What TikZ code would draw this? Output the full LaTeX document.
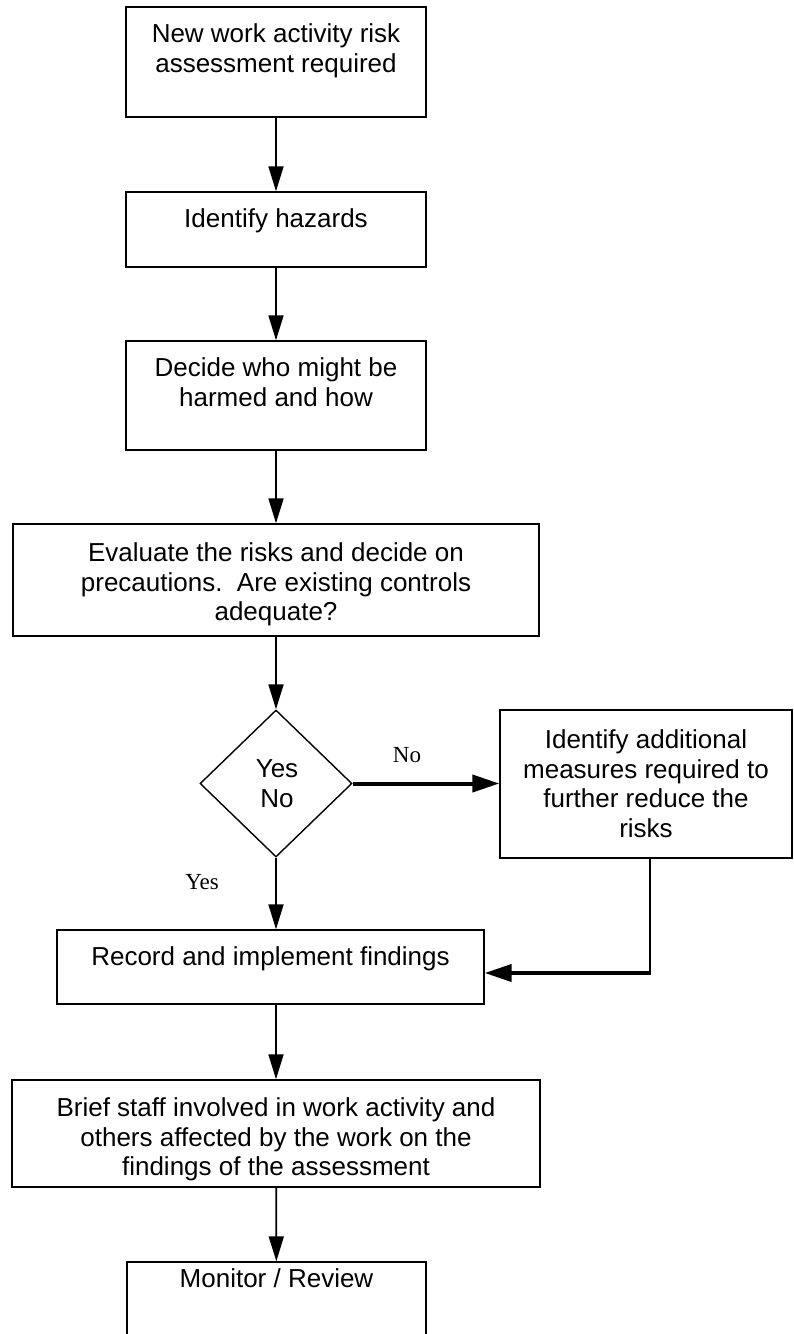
\documentclass[tikz,border=0pt]{standalone}
\usepackage{fontspec}
\setmainfont{Liberation Sans}
\newfontfamily\lblfont{Liberation Serif}
\usetikzlibrary{arrows.meta,shapes.geometric}
\begin{document}
\begin{tikzpicture}[x=1pt,y=-1pt,
  box/.style={draw, line width=1.4pt, rectangle, inner sep=0pt},
  dia/.style={draw, line width=1.4pt, diamond, inner sep=0pt},
  txt/.style={anchor=north, align=center, inner sep=0pt, font=\fontsize{26}{29.5}\selectfont},
  flow/.style={line width=1.8pt, -{Triangle[length=25pt,width=15pt]}},
  heavy/.style={line width=4pt, -{Triangle[length=27pt,width=17pt]}},
  lbl/.style={font=\lblfont\fontsize{23}{26}\selectfont, inner sep=0pt},
]
\clip (0,0) rectangle (794,1334);
\fill[white] (0,0) rectangle (794,1334);

% boxes
\node[box, minimum width=300pt, minimum height=110pt] (b1) at (276,62) {};
\node[box, minimum width=300pt, minimum height=75pt] (b2) at (276,229.5) {};
\node[box, minimum width=300pt, minimum height=109pt] (b3) at (276,395.5) {};
\node[box, minimum width=526pt, minimum height=112pt] (b4) at (276,580) {};
\node[dia, minimum width=152pt, minimum height=147pt] (d) at (276,783.5) {};
\node[box, minimum width=292pt, minimum height=148pt] (b6) at (646,784) {};
\node[box, minimum width=427pt, minimum height=74pt] (b7) at (270.5,967) {};
\node[box, minimum width=528pt, minimum height=107pt] (b8) at (276,1133.5) {};
\node[box, minimum width=299pt, minimum height=100pt] (b9) at (276.5,1312) {};

% texts
\node[txt] (t1) at (276,23.5) {New work activity risk\\assessment required};
\node[txt] (t2) at (276,208.5) {Identify hazards};
\node[txt] (t3) at (276,357.5) {Decide who might be\\harmed and how};
\node[txt] (t4) at (276,542.5) {Evaluate the risks and decide on\\precautions.\ \ Are existing controls\\adequate?};
\node[txt] (td) at (277,759.5) {Yes\\No};
\node[txt] (t6) at (646,729.5) {Identify additional\\measures required to\\further reduce the\\risks};
\node[txt] (t7) at (270.5,946.5) {Record and implement findings};
\node[txt] (t8) at (276,1097.5) {Brief staff involved in work activity and\\others affected by the work on the\\findings of the assessment};
\node[txt] (t9) at (276.5,1268.5) {Monitor / Review};

% labels
\node[lbl] (lno) at (407,755) {No};
\node[lbl] (lyes) at (202,882) {Yes};

% connectors
\draw[flow] (b1) -- (b2);
\draw[flow] (b2) -- (b3);
\draw[flow] (b3) -- (b4);
\draw[flow] (b4) -- (d);
\draw[flow] (d.south) -- (d.south |- b7.north);
\draw[heavy] (d.east) -- (d.east -| b6.west);
\coordinate (corner) at (650,973);
\draw[line width=1.8pt] (b6.south -| corner) -- (corner);
\draw[heavy] ([xshift=0.9pt]corner) -- (corner -| b7.east);
\draw[flow] (b7.south -| b8.north) -- (b8.north);
\draw[flow] (b8) -- (b9);
\end{tikzpicture}
\end{document}
